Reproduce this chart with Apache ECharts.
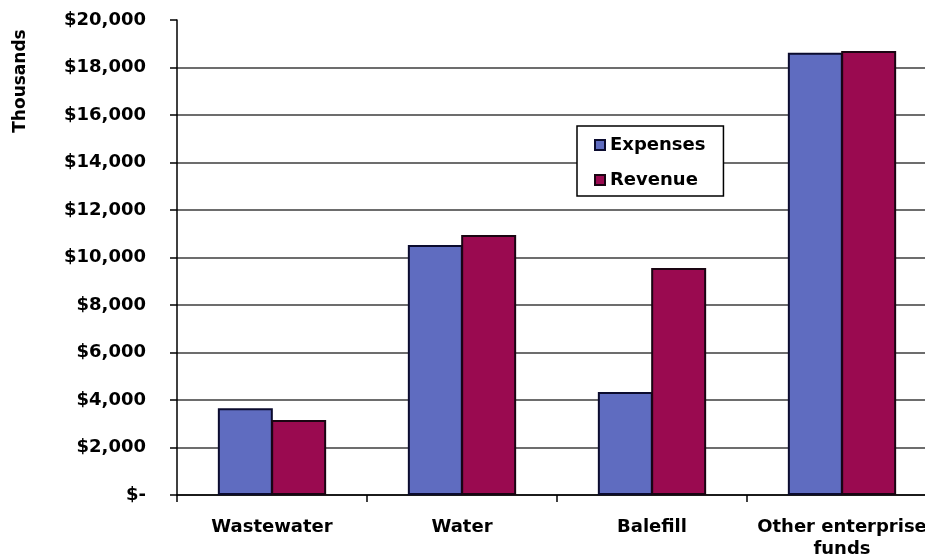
<!DOCTYPE html>
<html>
<head>
<meta charset="utf-8">
<script src="https://cdn.jsdelivr.net/npm/echarts@6/dist/echarts.min.js"></script>
<style>
html,body{margin:0;padding:0;background:#fff;overflow:hidden;}
#chart{width:925px;height:560px;}
</style>
</head>
<body>
<div id="chart"></div>
<script>
var categories = ['Wastewater', 'Water', 'Balefill', 'Other enterprise\nfunds'];
var expenses = [3650, 10530, 4340, 18620];
var revenue = [3160, 10950, 9560, 18700];
var seriesNames = ['Expenses', 'Revenue'];
var yAxisTitle = 'Thousands';

var FONT = 'DejaVu Sans';
var chart = echarts.init(document.getElementById('chart'), null, {renderer: 'canvas'});

function money(v) {
  if (v === 0) return '$-';
  return '$' + String(v).replace(/\B(?=(\d{3})+(?!\d))/g, ',');
}

chart.setOption({
  backgroundColor: '#ffffff',
  animation: false,
  grid: {left: 177, width: 760, top: 20, height: 475, containLabel: false, outerBoundsMode: 'none'},
  graphic: [{
    type: 'text',
    x: 21, y: 81,
    rotation: Math.PI / 2,
    style: {
      text: yAxisTitle,
      font: 'bold 17px "' + FONT + '"',
      fill: '#000',
      align: 'center',
      verticalAlign: 'middle'
    }
  }],
  legend: {
    orient: 'vertical',
    left: 577, top: 126,
    width: 150,
    padding: [9, 18, 6, 17],
    backgroundColor: '#fff',
    borderColor: '#000',
    borderWidth: 1.5,
    itemWidth: 10, itemHeight: 10,
    itemGap: 15,
    icon: 'rect',
    textStyle: {fontFamily: FONT, fontWeight: 'bold', fontSize: 18, color: '#000', lineHeight: 20},
    data: seriesNames
  },
  xAxis: {
    type: 'category',
    data: categories,
    axisLine: {lineStyle: {color: '#000', width: 1.5}},
    axisTick: {show: true, length: 7, lineStyle: {color: '#000', width: 1.5}},
    axisLabel: {fontFamily: FONT, fontWeight: 'bold', fontSize: 18, color: '#000', margin: 21, lineHeight: 22, interval: 0},
    splitLine: {show: false}
  },
  yAxis: {
    type: 'value',
    min: 0, max: 20000, interval: 2000,
    axisLine: {show: true, lineStyle: {color: '#000', width: 1.5}},
    axisTick: {show: true, length: 7, lineStyle: {color: '#000', width: 1.5}},
    axisLabel: {fontFamily: FONT, fontWeight: 'bold', fontSize: 18, color: '#000', margin: 31, formatter: money},
    splitLine: {show: true, showMaxLine: false, lineStyle: {color: '#3c3c3c', width: 1.5}}
  },
  series: [{
    name: seriesNames[0],
    type: 'bar',
    data: expenses,
    barGap: '-3%',
    barCategoryGap: '43%',
    itemStyle: {color: '#5f6cc0', borderColor: '#0b0b2e', borderWidth: 2}
  }, {
    name: seriesNames[1],
    type: 'bar',
    data: revenue,
    barGap: '-3%',
    barCategoryGap: '43%',
    itemStyle: {color: '#9a0a50', borderColor: '#1a0512', borderWidth: 2}
  }]
});
</script>
</body>
</html>
